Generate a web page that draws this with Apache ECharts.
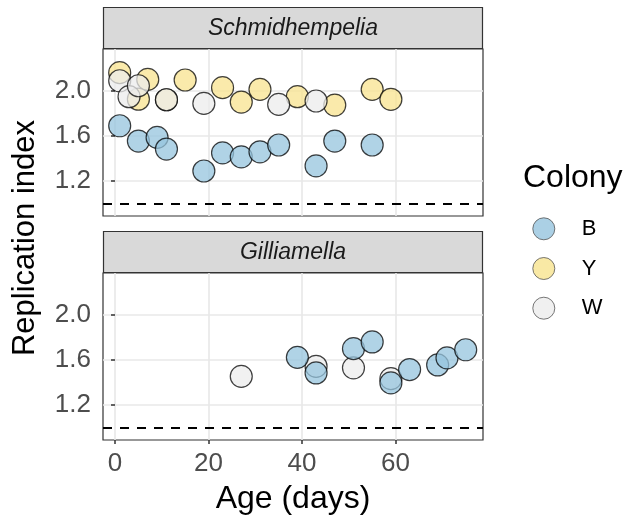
<!DOCTYPE html>
<html><head><meta charset="utf-8">
<script src="https://cdn.jsdelivr.net/npm/echarts@6/dist/echarts.min.js"></script>
<style>html,body{margin:0;padding:0;background:#fff}#c{width:629px;height:521px}</style>
</head><body><div id="c"></div>
<script>
// ---- data ----
const panelNames = ['Schmidhempelia', 'Gilliamella'];
const colonies = ['B', 'Y', 'W'];
const xTicks = [0, 20, 40, 60];
const yTicks = [1.2, 1.6, 2.0];
const refLine = 1.0;

// Schmidhempelia panel
const schB_age = [1, 5, 9, 11, 19, 23, 27, 31, 35, 43, 47, 55];
const schB_ri  = [1.69, 1.555, 1.587, 1.484, 1.29, 1.45, 1.415, 1.46, 1.52, 1.335, 1.555, 1.52];
const schY_age = [1, 5, 7, 11, 15, 23, 27, 31, 39, 47, 55, 59];
const schY_ri  = [2.16, 1.925, 2.10, 1.92, 2.095, 2.027, 1.90, 2.012, 1.947, 1.873, 2.012, 1.924];
const schW_age = [1, 3, 5, 11, 19, 35, 43];
const schW_ri  = [2.088, 1.947, 2.044, 1.92, 1.888, 1.879, 1.909];

// Gilliamella panel
const gilB_age = [39, 43, 51, 55, 59, 63, 69, 71, 75];
const gilB_ri  = [1.623, 1.485, 1.70, 1.759, 1.397, 1.515, 1.556, 1.618, 1.69];
const gilW_age = [27, 43, 51, 59];
const gilW_ri  = [1.455, 1.544, 1.53, 1.435];

// ---- styling ----
const FONT = '"Liberation Sans", Arial, Helvetica, sans-serif';
const fillColors = { B: '#96C4DE', Y: '#F8E38F', W: '#ECECEC' };
const X_MIN = -2.57, X_MAX = 78.7, Y_MIN = 0.892, Y_MAX = 2.369;
const gridL = 103, gridW = 380, gridH = 167;
const gridTops = [49, 273];

function pts(xs, ys) { return xs.map((x, i) => [x, ys[i]]); }

const chart = echarts.init(document.getElementById('c'), null, { renderer: 'canvas' });

function xAxisFor(i) {
  return {
    type: 'value', gridIndex: i, min: X_MIN, max: X_MAX,
    axisLine: { show: false },
    axisTick: { show: i === 1, length: 4, lineStyle: { color: '#333', width: 1.5 }, customValues: xTicks },
    axisLabel: { show: i === 1, customValues: xTicks, margin: 11, fontSize: 26, color: '#4D4D4D', fontFamily: FONT },
    splitLine: { show: true, lineStyle: { color: '#E8E8E8', width: 1.6 } },
    name: i === 1 ? 'Age (days)' : '',
    nameLocation: 'middle', nameGap: 43,
    nameTextStyle: { fontSize: 32, color: '#000', fontFamily: FONT }
  };
}
function yAxisFor(i) {
  return {
    type: 'value', gridIndex: i, min: Y_MIN, max: Y_MAX,
    axisLine: { show: false },
    axisTick: { show: true, length: 4, lineStyle: { color: '#333', width: 1.5 }, customValues: yTicks },
    axisLabel: { customValues: yTicks, margin: 12, fontSize: 26, color: '#4D4D4D', fontFamily: FONT,
                 formatter: v => Number(v).toFixed(1) },
    splitLine: { show: true, lineStyle: { color: '#E8E8E8', width: 1.6 } }
  };
}

function scatter(name, data, gi, withRef) {
  const s = {
    type: 'scatter', name: name, xAxisIndex: gi, yAxisIndex: gi,
    data: data, symbol: 'circle', symbolSize: 22,
    itemStyle: { color: fillColors[name], borderColor: '#000', borderWidth: 1.2, opacity: 0.75 },
    emphasis: { disabled: true }, animation: false
  };
  if (withRef) {
    s.markLine = {
      silent: true, symbol: 'none', animation: false,
      label: { show: false },
      lineStyle: { color: '#000', width: 2, type: [9, 8], opacity: 1 },
      data: [{ yAxis: refLine }]
    };
  }
  return s;
}

const series = [
  scatter('Y', pts(schY_age, schY_ri), 0, true),
  scatter('B', pts(schB_age, schB_ri), 0, false),
  scatter('W', pts(schW_age, schW_ri), 0, false),
  scatter('W', pts(gilW_age, gilW_ri), 1, true),
  scatter('B', pts(gilB_age, gilB_ri), 1, false)
];

function strip(top, h, label) {
  return [
    { type: 'rect', shape: { x: gridL + 0.5, y: top + 0.5, width: gridW - 1, height: h },
      style: { fill: '#D9D9D9', stroke: '#333', lineWidth: 1.2 }, z: 10 },
    { type: 'text', x: gridL + gridW / 2, y: top + h / 2 + 1,
      style: { text: label, align: 'center', verticalAlign: 'middle', fill: '#1A1A1A',
               fontSize: 23, fontStyle: 'italic', fontFamily: FONT }, z: 11 }
  ];
}

chart.setOption({
  backgroundColor: '#fff',
  animation: false,
  title: { text: 'Colony', left: 523, top: 162, padding: 0,
           textStyle: { fontSize: 32, fontWeight: 'normal', color: '#000', fontFamily: FONT } },
  legend: {
    data: colonies, orient: 'vertical', left: 532.3, top: 217.3, padding: 0,
    itemWidth: 22, itemHeight: 22, itemGap: 16.7, icon: 'circle',
    itemStyle: { borderColor: '#555', borderWidth: 1, opacity: 0.8 },
    textStyle: { fontSize: 22, color: '#000', fontFamily: FONT, padding: [0, 0, 0, 22] },
    selectedMode: false
  },
  grid: gridTops.map(t => ({
    left: gridL, top: t, width: gridW, height: gridH, show: true,
    backgroundColor: '#fff', borderColor: '#333', borderWidth: 1.2, containLabel: false
  })),
  xAxis: [xAxisFor(0), xAxisFor(1)],
  yAxis: [yAxisFor(0), yAxisFor(1)],
  series: series,
  graphic: [
    ...strip(7, 41, panelNames[0]),
    ...strip(231, 41, panelNames[1]),
    { type: 'text', x: 25, y: 238, rotation: Math.PI / 2,
      style: { text: 'Replication index', align: 'center', verticalAlign: 'middle',
               fill: '#000', fontSize: 31, fontFamily: FONT } }
  ]
});
</script>
</body></html>
